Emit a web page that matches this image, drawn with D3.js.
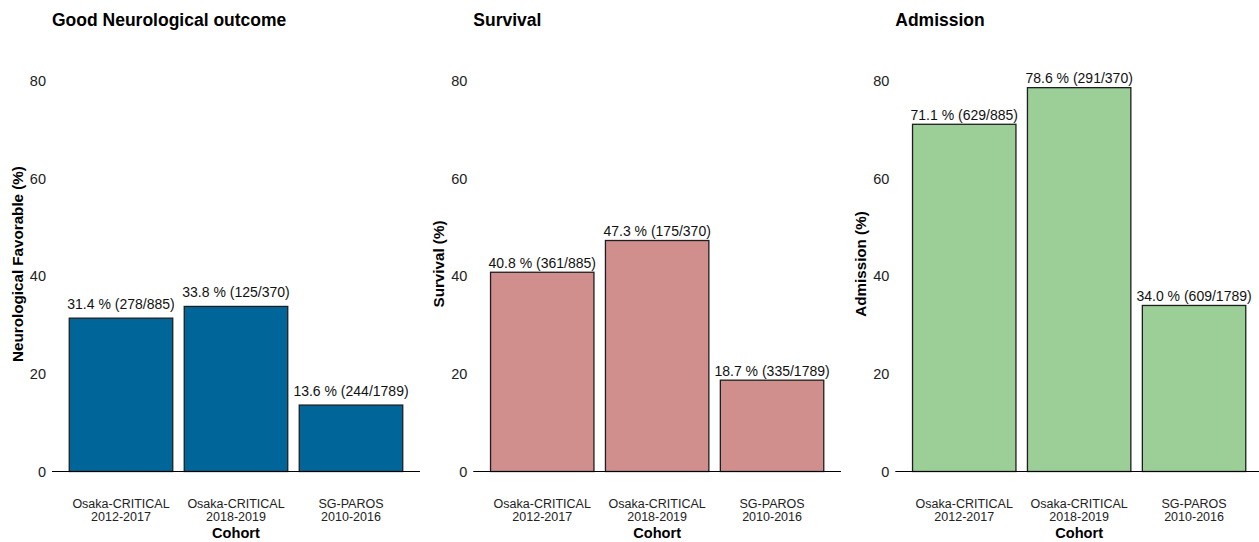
<!DOCTYPE html>
<html>
<head>
<meta charset="utf-8">
<script src="https://cdn.jsdelivr.net/npm/d3@7"></script>
<style>
  body { margin: 0; background: #fff; }
  svg { font-family: "Liberation Sans", Arial, Helvetica, sans-serif; }
</style>
</head>
<body>
<svg id="chart" width="1259" height="542"></svg>
<script>
// ---- data ----
const cohortLine1 = ["Osaka-CRITICAL", "Osaka-CRITICAL", "SG-PAROS"];
const cohortLine2 = ["2012-2017", "2018-2019", "2010-2016"];
const cohorts = ["Osaka-CRITICAL 2012-2017", "Osaka-CRITICAL 2018-2019", "SG-PAROS 2010-2016"];
const totals = [885, 370, 1789];

const neuroPct = [31.4, 33.8, 13.6];
const neuroCount = [278, 125, 244];

const survivalPct = [40.8, 47.3, 18.7];
const survivalCount = [361, 175, 335];

const admissionPct = [71.1, 78.6, 34.0];
const admissionCount = [629, 291, 609];

const yTicks = [0, 20, 40, 60, 80];
const panelTitles = ["Good Neurological outcome", "Survival", "Admission"];
const yTitles = ["Neurological Favorable (%)", "Survival (%)", "Admission (%)"];
const xTitle = "Cohort";

// ---- layout / style ----
const panels = [
  { title: panelTitles[0], ytitle: yTitles[0], pct: neuroPct, cnt: neuroCount, color: "#00669A", x0: 52, x1: 420, labelGap: 9 },
  { title: panelTitles[1], ytitle: yTitles[1], pct: survivalPct, cnt: survivalCount, color: "#D08F8D", x0: 473.3, x1: 841, labelGap: 4.5 },
  { title: panelTitles[2], ytitle: yTitles[2], pct: admissionPct, cnt: admissionCount, color: "#9CCE98", x0: 895.3, x1: 1263, labelGap: 4.5 }
];

const svg = d3.select("#chart");
const y = d3.scaleLinear().domain([0, 85]).range([471.5, 56.4]);

panels.forEach(p => {
  const g = svg.append("g");
  const x = d3.scaleBand().domain(cohorts).range([p.x0, p.x1]).paddingInner(0.1).paddingOuter(0.15);

  // title
  g.append("text").attr("x", p.x0).attr("y", 26)
    .attr("font-size", 17.5).attr("font-weight", "bold").attr("fill", "#000")
    .text(p.title);

  // y tick labels
  g.selectAll(".yt").data(yTicks).enter().append("text")
    .attr("x", p.x0 - 6).attr("y", d => y(d)).attr("dy", "0.36em")
    .attr("text-anchor", "end").attr("font-size", 14.5).attr("fill", "#222")
    .text(d => d);

  // y title
  g.append("text")
    .attr("transform", `translate(${p.x0 - 29},264) rotate(-90)`)
    .attr("text-anchor", "middle").attr("font-size", 15.2).attr("font-weight", "bold").attr("fill", "#000")
    .text(p.ytitle);

  // bars
  const data = cohorts.map((c, i) => ({ c, v: p.pct[i], n: p.cnt[i], N: totals[i] }));
  g.selectAll(".bar").data(data).enter().append("rect")
    .attr("x", d => x(d.c)).attr("width", x.bandwidth())
    .attr("y", d => y(d.v)).attr("height", d => y(0) - y(d.v))
    .attr("fill", p.color).attr("stroke", "#1e1e1e").attr("stroke-width", 1.3);

  // value labels
  g.selectAll(".lbl").data(data).enter().append("text")
    .attr("x", d => x(d.c) + x.bandwidth() / 2).attr("y", d => y(d.v) - p.labelGap)
    .attr("text-anchor", "middle").attr("font-size", 14).attr("fill", "#111")
    .text(d => `${d.v.toFixed(1)} % (${d.n}/${d.N})`);

  // x axis line
  g.append("line").attr("x1", p.x0).attr("x2", p.x1).attr("y1", y(0)).attr("y2", y(0))
    .attr("stroke", "#000").attr("stroke-width", 1.1);

  // x tick labels
  cohorts.forEach((c, i) => {
    const cx = x(c) + x.bandwidth() / 2;
    const t = g.append("text").attr("text-anchor", "middle").attr("font-size", 12.5).attr("fill", "#222");
    t.append("tspan").attr("x", cx).attr("y", 507.5).text(cohortLine1[i]);
    t.append("tspan").attr("x", cx).attr("y", 521).text(cohortLine2[i]);
  });

  // x title
  g.append("text").attr("x", (p.x0 + p.x1) / 2).attr("y", 537.5)
    .attr("text-anchor", "middle").attr("font-size", 14.6).attr("font-weight", "bold").attr("fill", "#000")
    .text(xTitle);
});
</script>
</body>
</html>
